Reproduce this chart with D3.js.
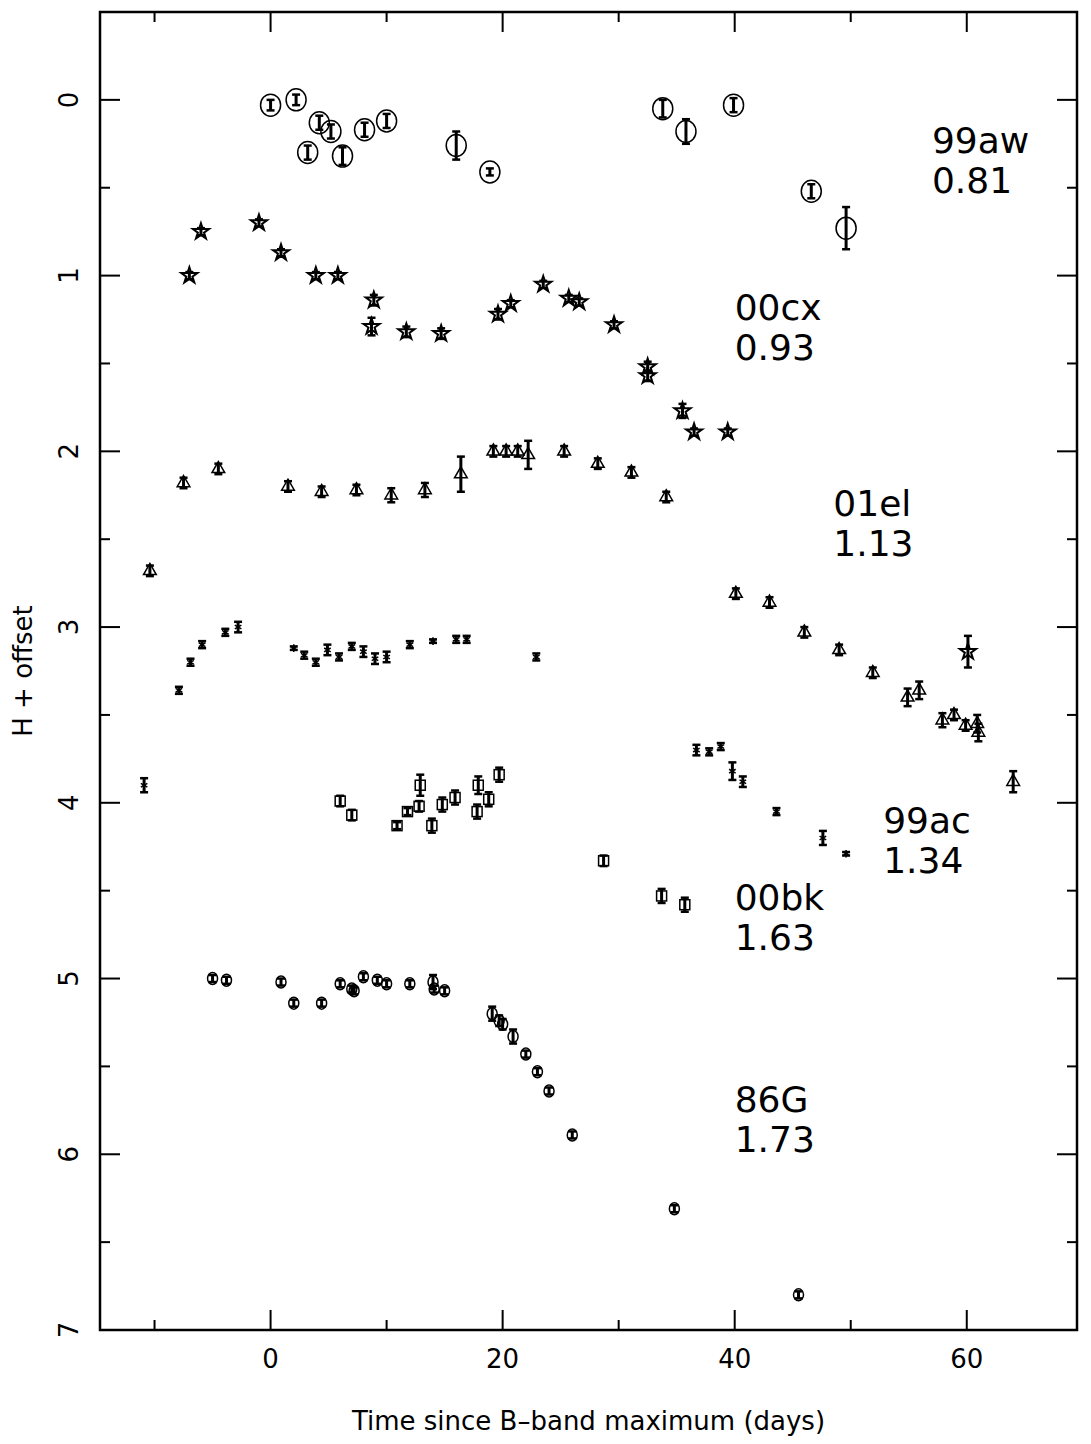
<!DOCTYPE html>
<html><head><meta charset="utf-8">
<script src="https://cdn.jsdelivr.net/npm/d3@7"></script>
<style>body{margin:0;background:#fff}</style></head>
<body><svg id="c" width="1091" height="1444"></svg>
<script>
// [day, mag, err]
const sn99aw = [[0,0.03,0.03],[2.2,0,0.03],[3.2,0.3,0.04],[4.2,0.13,0.04],[5.2,0.18,0.04],[6.2,0.32,0.05],[8.1,0.17,0.04],[10,0.12,0.04],[16,0.26,0.08],[18.9,0.41,0.02],[33.8,0.05,0.05],[35.8,0.18,0.07],[39.9,0.03,0.04],[46.6,0.52,0.04],[49.6,0.73,0.12]];
const sn00cx = [[-7,1.0,0.02],[-6,0.75,0.02],[-1,0.7,0.02],[0.9,0.87,0.02],[3.9,1.0,0.02],[5.8,1.0,0.02],[8.9,1.14,0.03],[8.7,1.29,0.05],[11.7,1.32,0.03],[14.7,1.33,0.03],[19.6,1.22,0.03],[20.7,1.16,0.02],[23.5,1.05,0.02],[25.7,1.13,0.02],[26.6,1.15,0.02],[29.6,1.28,0.02],[32.5,1.52,0.03],[32.5,1.57,0.03],[35.5,1.77,0.04],[36.5,1.89,0.02],[39.4,1.89,0.02],[60.1,3.14,0.09]];
const sn01el = [[-10.4,2.68,0.03],[-7.5,2.18,0.03],[-4.5,2.1,0.03],[1.5,2.2,0.03],[4.4,2.23,0.03],[7.4,2.22,0.03],[10.4,2.25,0.04],[13.3,2.22,0.04],[16.4,2.13,0.1],[19.2,2.0,0.03],[20.3,2.0,0.03],[21.3,2.0,0.03],[22.2,2.02,0.08],[25.3,2.0,0.03],[28.2,2.07,0.03],[31.1,2.12,0.03],[34.1,2.26,0.03],[40.1,2.81,0.03],[43,2.86,0.03],[46,3.03,0.03],[49,3.13,0.03],[51.9,3.26,0.03],[54.9,3.4,0.05],[55.9,3.36,0.05],[57.9,3.53,0.04],[58.9,3.5,0.03],[59.9,3.56,0.03],[60.9,3.55,0.05],[61,3.6,0.05],[64,3.88,0.06]];
const sn99ac = [[-10.9,3.9,0.04],[-7.9,3.36,0.02],[-6.9,3.2,0.02],[-5.9,3.1,0.02],[-3.9,3.03,0.02],[-2.8,3.0,0.03],[2,3.12,0.01],[2.9,3.16,0.02],[3.9,3.2,0.02],[4.9,3.13,0.03],[5.9,3.17,0.02],[7,3.11,0.02],[8,3.14,0.03],[9,3.18,0.03],[10,3.17,0.03],[12,3.1,0.02],[14,3.08,0.01],[16,3.07,0.02],[16.9,3.07,0.02],[22.9,3.17,0.02],[36.7,3.7,0.03],[37.8,3.71,0.02],[38.8,3.68,0.02],[39.8,3.82,0.05],[40.7,3.88,0.03],[43.6,4.05,0.02],[47.6,4.2,0.04],[49.6,4.29,0.01]];
const sn00bk = [[6,3.99,0.03],[7,4.07,0.03],[10.9,4.13,0.02],[11.8,4.05,0.02],[12.8,4.02,0.03],[12.9,3.9,0.06],[13.9,4.13,0.04],[14.8,4.01,0.04],[15.9,3.97,0.04],[17.8,4.05,0.04],[17.9,3.9,0.05],[18.8,3.98,0.04],[19.7,3.84,0.04],[28.7,4.33,0.03],[33.7,4.53,0.04],[35.7,4.58,0.04]];
const sn86G = [[-5,5.0,0.02],[-3.8,5.01,0.02],[0.9,5.02,0.02],[2,5.14,0.02],[4.4,5.14,0.02],[6,5.03,0.02],[7,5.06,0.02],[7.2,5.07,0.02],[8,4.99,0.02],[9.2,5.01,0.02],[10,5.03,0.02],[12,5.03,0.02],[14,5.02,0.04],[14.1,5.06,0.02],[15,5.07,0.02],[19.1,5.2,0.04],[19.7,5.24,0.03],[20,5.26,0.03],[20.9,5.33,0.04],[22,5.43,0.02],[23,5.53,0.02],[24,5.64,0.02],[26,5.89,0.02],[34.8,6.31,0.02],[45.5,6.8,0.02]];
const labels = [["99aw","0.81",57,0.3],["00cx","0.93",40,1.25],["01el","1.13",48.5,2.37],["99ac","1.34",52.8,4.17],["00bk","1.63",40,4.61],["86G","1.73",40,5.76]];

const svg = d3.select("#c");
const L=100,R=1077,T=12,B=1330;
const x = d3.scaleLinear().domain([-14.7,69.5]).range([L,R]);
const y = d3.scaleLinear().domain([-0.5,7]).range([T,B]);
const g = svg.append("g").attr("stroke","#000").attr("fill","none").attr("stroke-width",2);
g.append("rect").attr("x",L).attr("y",T).attr("width",R-L).attr("height",B-T).attr("stroke-width",2.5);

// ticks
d3.range(-10,70,10).forEach(v=>{
  const len = v%20===0?20:10, px=x(v);
  g.append("line").attr("x1",px).attr("x2",px).attr("y1",B).attr("y2",B-len);
  g.append("line").attr("x1",px).attr("x2",px).attr("y1",T).attr("y2",T+len);
});
d3.range(0,7.01,0.5).forEach(v=>{
  const len = v%1===0?20:10, py=y(v);
  g.append("line").attr("y1",py).attr("y2",py).attr("x1",L).attr("x2",L+len);
  g.append("line").attr("y1",py).attr("y2",py).attr("x1",R).attr("x2",R-len);
});
const font="'DejaVu Sans', sans-serif";
[0,20,40,60].forEach(v=>svg.append("text").attr("x",x(v)).attr("y",B+38).attr("text-anchor","middle")
  .attr("font-family",font).attr("font-size",26).text(v));
d3.range(0,8).forEach(v=>svg.append("text").attr("transform",`translate(${L-22},${y(v)}) rotate(-90)`)
  .attr("text-anchor","middle").attr("font-family",font).attr("font-size",26).text(v));
svg.append("text").attr("x",(L+R)/2).attr("y",1430).attr("text-anchor","middle").attr("font-family",font)
  .attr("font-size",26).text("Time since B\u2013band maximum (days)");
svg.append("text").attr("transform",`translate(32,${(T+B)/2}) rotate(-90)`).attr("text-anchor","middle")
  .attr("font-family",font).attr("font-size",26).text("H + offset");

function errbars(data){
  data.forEach(([d,m,e])=>{
    const px=x(d), y1=y(m-e), y2=y(m+e);
    g.append("line").attr("x1",px).attr("x2",px).attr("y1",y1).attr("y2",y2).attr("stroke-width",3);
    [y1,y2].forEach(yy=>g.append("line").attr("x1",px-4).attr("x2",px+4).attr("y1",yy).attr("y2",yy).attr("stroke-width",2.5));
  });
}
const star = d3.symbol().type(d3.symbolStar).size(80)();
const tri = d3.symbol().type(d3.symbolTriangle).size(70)();
const aster = d3.symbol().type(d3.symbolAsterisk).size(40)();
function marks(data, draw){ data.forEach(([d,m])=>draw(g.append("g").attr("transform",`translate(${x(d)},${y(m)})`))); }

errbars(sn99aw); marks(sn99aw, s=>s.append("ellipse").attr("rx",10).attr("ry",11).attr("stroke-width",1.5));
errbars(sn00cx); marks(sn00cx, s=>s.append("path").attr("d",star).attr("stroke-width",2));
errbars(sn01el); marks(sn01el, s=>s.append("path").attr("d",tri).attr("stroke-width",1.5));
errbars(sn99ac); marks(sn99ac, s=>s.append("path").attr("d",aster).attr("stroke-width",1.5));
errbars(sn00bk); marks(sn00bk, s=>s.append("rect").attr("x",-5).attr("y",-5).attr("width",10).attr("height",10).attr("stroke-width",1.5));
errbars(sn86G); marks(sn86G, s=>s.append("ellipse").attr("rx",5).attr("ry",6).attr("stroke-width",1.5));

labels.forEach(([n,v,d,m])=>{
  const t=svg.append("text").attr("x",x(d)).attr("y",y(m)).attr("font-family",font).attr("font-size",36);
  t.append("tspan").attr("x",x(d)).text(n);
  t.append("tspan").attr("x",x(d)).attr("dy",40).text(v);
});
</script></body></html>
